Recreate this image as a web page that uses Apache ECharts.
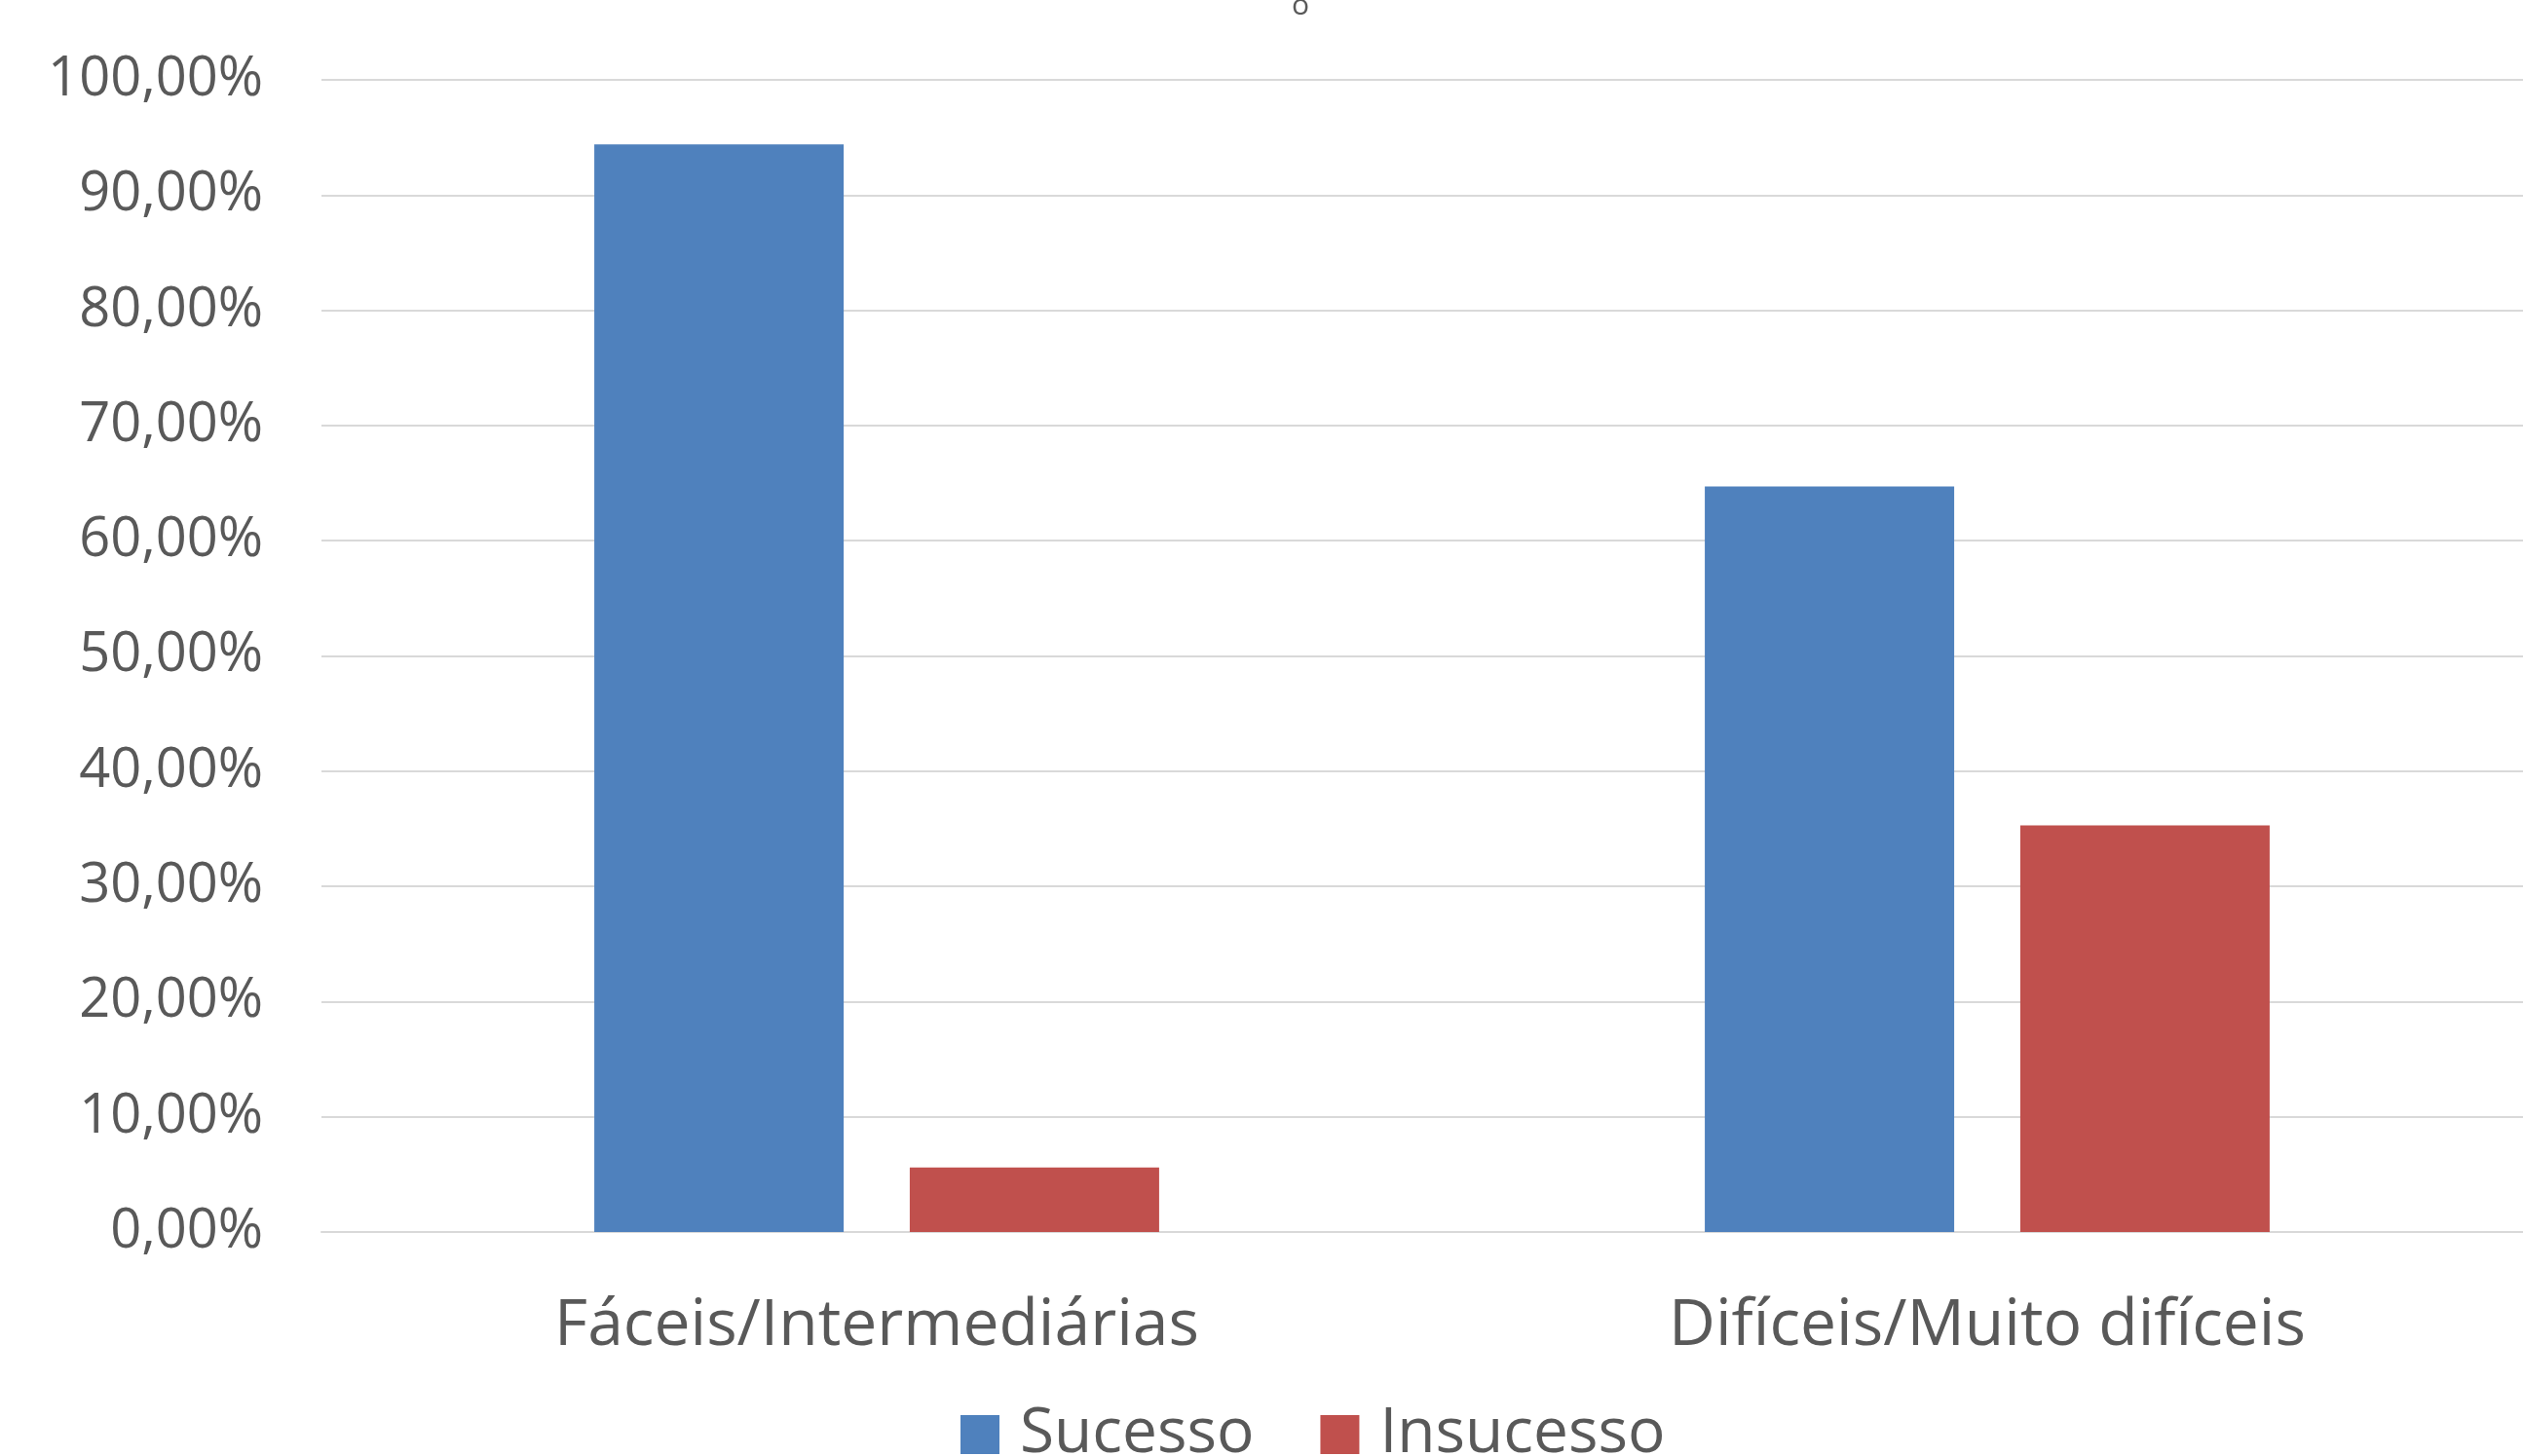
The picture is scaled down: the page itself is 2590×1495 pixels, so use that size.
<!DOCTYPE html>
<html>
<head>
<meta charset="utf-8">
<style>
  html, body { margin: 0; padding: 0; background: #ffffff; }
  #chart { width: 2590px; height: 1495px; }
</style>
<script src="https://cdn.jsdelivr.net/npm/echarts@6/dist/echarts.min.js"></script>
</head>
<body>
<div id="chart"></div>
<script>
// Question difficulty groups
const categories = ['Fáceis/Intermediárias', 'Difíceis/Muito difíceis'];
// Share of answers (%) per group
const sucesso = [94.4, 64.7];
const insucesso = [5.6, 35.3];
const seriesNames = ['Sucesso', 'Insucesso'];
// Y axis range (%)
const yMin = 0, yMax = 100, yStep = 10;

const textColor = '#595959';
const fontFamily = '"Open Sans", "Noto Sans", sans-serif';

const chart = echarts.init(document.getElementById('chart'), null, { renderer: 'canvas' });

chart.setOption({
  animation: false,
  backgroundColor: '#ffffff',
  title: {
    text: 'o',
    left: 1321,
    top: -14,
    textStyle: { color: textColor, fontFamily: fontFamily, fontSize: 30, fontWeight: 'normal' }
  },
  legend: {
    data: seriesNames,
    left: 986,
    top: 1441,
    padding: 0,
    icon: 'rect',
    itemWidth: 40,
    itemHeight: 40,
    itemGap: 68,
    textStyle: { color: textColor, fontFamily: fontFamily, fontSize: 64, padding: [0, 0, 0, 16] }
  },
  grid: {
    left: 330, width: 2280, top: 82, bottom: 230,
    containLabel: false,
    outerBoundsMode: 'none'
  },
  xAxis: {
    type: 'category',
    data: categories,
    axisLine: { show: true, lineStyle: { color: '#D9D9D9', width: 2 } },
    axisTick: { show: false },
    axisLabel: { color: textColor, fontFamily: fontFamily, fontSize: 66, margin: 64 },
    splitLine: { show: false }
  },
  yAxis: {
    type: 'value',
    min: yMin,
    max: yMax,
    interval: yStep,
    axisLine: { show: false },
    axisTick: { show: false },
    axisLabel: {
      color: textColor,
      fontFamily: fontFamily,
      fontSize: 56,
      margin: 60,
      formatter: v => v.toFixed(2).replace('.', ',') + '%'
    },
    splitLine: { lineStyle: { color: '#D9D9D9', width: 2 } }
  },
  series: [
    {
      name: seriesNames[0],
      type: 'bar',
      data: sucesso,
      barWidth: 256,
      barGap: '26.5%',
      itemStyle: { color: '#4F81BD' }
    },
    {
      name: seriesNames[1],
      type: 'bar',
      data: insucesso,
      barWidth: 256,
      barGap: '26.5%',
      itemStyle: { color: '#C0504D' }
    }
  ]
});
</script>
</body>
</html>
